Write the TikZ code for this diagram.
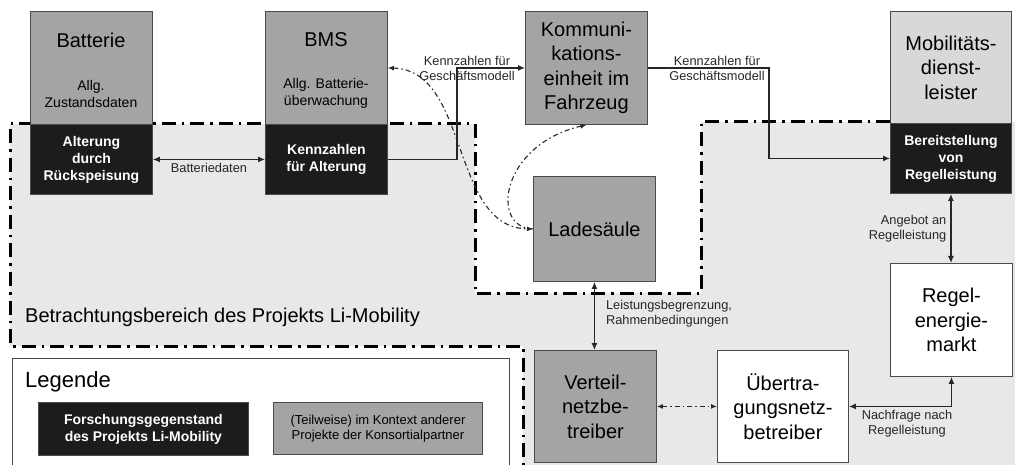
\documentclass[tikz,border=0pt]{standalone}
\usepackage{fontspec}
\setmainfont{Liberation Sans}
\usetikzlibrary{arrows.meta}

\definecolor{boxgray}{HTML}{A4A4A4}
\definecolor{boxlight}{HTML}{D8D8D8}
\definecolor{boxdark}{HTML}{1C1C1C}
\definecolor{boxline}{HTML}{4A4A4A}
\definecolor{areafill}{HTML}{E8E8E8}
\definecolor{linecol}{HTML}{262626}

\begin{document}
\begin{tikzpicture}[x=1pt,y=-1pt,
  blk/.style={draw=boxline, line width=0.9pt, inner sep=0pt, anchor=north west, align=center},
  gbox/.style={blk, fill=boxgray},
  lbox/.style={blk, fill=boxlight},
  dbox/.style={blk, fill=boxdark, text=white, font=\bfseries\fontsize{14}{17}\selectfont},
  wbox/.style={blk, fill=white},
  bigtxt/.style={font=\fontsize{20}{24.5}\selectfont},
  subtxt/.style={font=\fontsize{14}{17}\selectfont, align=center, inner sep=0pt},
  lbl/.style={font=\fontsize{12.8}{15}\selectfont, text=black!85, inner sep=1pt},
  conn/.style={draw=linecol, line width=1.2pt, {Latex[length=7pt,width=6pt]}-{Latex[length=7pt,width=6pt]}},
  connto/.style={draw=linecol, line width=1.2pt, -{Latex[length=7pt,width=6pt]}},
  ddash/.style={draw=linecol, line width=1.1pt, dash pattern=on 5pt off 3pt on 1.5pt off 3pt},
  areaborder/.style={draw=black, line width=3pt, dash pattern=on 14pt off 6pt on 2.5pt off 6pt}
]
\useasboundingbox (0,0) rectangle (1015,465);

% project scope: shaded region with dash-dotted border
\fill[areafill] (10,124) -- (475,124) -- (475,293) -- (701,293) -- (701,122)
  -- (1015,122) -- (1015,465) -- (523,465) -- (523,346) -- (10,346) -- cycle;
\draw[areaborder] (890,122) -- (701,122) -- (701,293) -- (475,293) -- (475,124)
  -- (10,124) -- (10,346) -- (523,346) -- (523,465);
\node[bigtxt, anchor=west, inner sep=0pt] (areaT) at (25,317) {Betrachtungsbereich des Projekts Li-Mobility};

% legend
\node[wbox, minimum width=497pt, minimum height=120pt] (legend) at (12,358) {};
\node[anchor=west, inner sep=0pt, font=\fontsize{22}{26}\selectfont] (legT) at (25,382) {Legende};
\node[dbox, minimum width=210pt, minimum height=53pt] (legD) at (38,402) {Forschungsgegenstand\\des Projekts Li-Mobility};
\node[gbox, minimum width=209pt, minimum height=52pt, font=\fontsize{13}{15.5}\selectfont] (legG) at (273,402) {(Teilweise) im Kontext anderer\\Projekte der Konsortialpartner};

% vehicle side
\node[gbox, minimum width=122pt, minimum height=113pt] (batt) at (30,11) {};
\node[dbox, minimum width=122pt, minimum height=70pt] (battA) at (30,124) {Alterung\\durch\\Rückspeisung};
\node[bigtxt] (battT) at (91,40) {Batterie};
\node[subtxt] (battS) at (91,93.5) {Allg.\\Zustandsdaten};

\node[gbox, minimum width=122pt, minimum height=113pt] (bms) at (265,11) {};
\node[dbox, minimum width=122pt, minimum height=70pt] (bmsA) at (265,124) {Kennzahlen\\für Alterung};
\node[bigtxt] (bmsT) at (326,40) {BMS};
\node[subtxt] (bmsS) at (326,93.5) {Allg. Batterie-\\überwachung};

\node[gbox, bigtxt, minimum width=122pt, minimum height=113pt] (komm) at (525,11) {Kommuni-\\kations-\\einheit im\\Fahrzeug};
\node[gbox, bigtxt, minimum width=122pt, minimum height=105pt] (lade) at (533,176) {Ladesäule};

% market side
\node[lbox, bigtxt, minimum width=121pt, minimum height=112pt] (mob) at (890,11) {Mobilitäts-\\dienst-\\leister};
\node[dbox, minimum width=121pt, minimum height=70pt] (mobA) at (890,123) {Bereitstellung\\von\\Regelleistung};
\node[wbox, bigtxt, minimum width=122pt, minimum height=113pt] (regel) at (890,263) {Regel-\\energie-\\markt};
\node[gbox, bigtxt, minimum width=122pt, minimum height=112pt] (vnb) at (534,350) {Verteil-\\netzbe-\\treiber};
\node[wbox, bigtxt, minimum width=131pt, minimum height=112pt] (uenb) at (717,350) {Übertra-\\gungsnetz-\\betreiber};

% data flows
\draw[conn] (battA) -- node[lbl, below=2pt] (lbBatt) {Batteriedaten} (bmsA);
\draw[connto] (bmsA.east) -- ++(69,0) |- (komm.west);
\node[lbl, align=center] (lbK1) at (467,68.5) {Kennzahlen für\\Geschäftsmodell};
\draw[connto] (komm.east) -- ++(121,0) |- (mobA.west);
\node[lbl, align=center] (lbK2) at (717,68.5) {Kennzahlen für\\Geschäftsmodell};
\draw[conn] (mobA.south) -- node[lbl, align=right, left=3pt] (lbAng) {Angebot an\\Regelleistung} (mobA.south |- regel.north);
\draw[conn] (lade.south) -- node[lbl, align=left, right=10pt, yshift=2.5pt] (lbLeis) {Leistungsbegrenzung,\\Rahmenbedingungen} (lade.south |- vnb.north);
\draw[conn] (uenb.east) -| (regel.south);
\node[lbl, align=center] (lbNach) at (907,423.5) {Nachfrage nach\\Regelleistung};
\draw[ddash, {Latex[length=6pt,width=5pt]}-{Latex[length=6pt,width=5pt]}] (vnb) -- (uenb);

% optional communication paths
\draw[ddash, {Latex[length=6pt,width=5pt]}-{Latex[length=6pt,width=5pt]}] (bms.east) .. controls (470,70) and (450,228) .. (lade.west);
\draw[ddash, -{Latex[length=6pt,width=5pt]}] (lade.west) .. controls (490,228) and (500,145) .. (komm.south);
\end{tikzpicture}
\end{document}
